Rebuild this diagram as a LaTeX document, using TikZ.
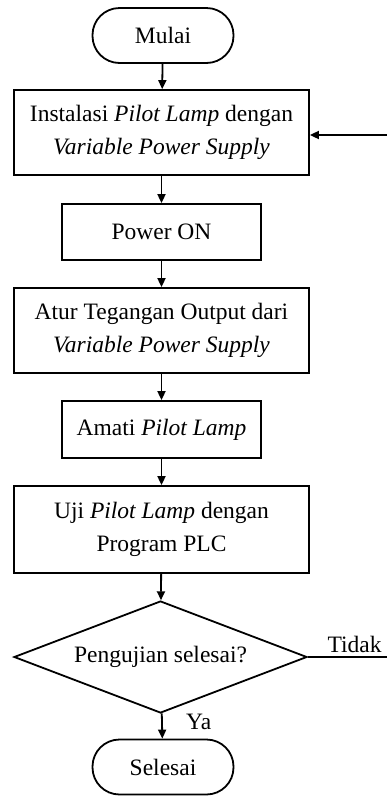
\documentclass[tikz,border=0pt]{standalone}
\usepackage{fontspec}
\setmainfont{Liberation Serif}
\usetikzlibrary{arrows.meta,shapes.geometric}
\begin{document}
\begin{tikzpicture}[x=1pt,y=-1pt,
  line width=1.8pt,
  font=\fontsize{23.5}{33}\selectfont,
  flow/.style={-{Triangle[length=9pt,width=8pt]}},
  procbox/.style={draw,rectangle,inner sep=0pt,align=center},
  termbox/.style={draw,rectangle,rounded corners=27pt,inner sep=0pt,minimum width=141pt,minimum height=55pt},
]
\useasboundingbox (0,0) rectangle (387,796);

% terminators
\node[termbox] (mulai) at (163,35.5) {Mulai};
\node[termbox] (selesai) at (163,767) {Selesai};

% process steps
\node[procbox,minimum width=295pt,minimum height=85pt] (inst) at (161.5,132.5)
  {Instalasi \textit{Pilot Lamp} dengan\\\textit{Variable Power Supply}};
\node[procbox,minimum width=199pt,minimum height=56pt] (pwr) at (161.5,232)
  {Power ON};
\node[procbox,minimum width=295pt,minimum height=85pt] (atur) at (161.5,330.5)
  {Atur Tegangan Output dari\\\textit{Variable Power Supply}};
\node[procbox,minimum width=199pt,minimum height=57pt] (amati) at (161.5,429.5)
  {Amati \textit{Pilot Lamp}};
\node[procbox,minimum width=295pt,minimum height=87pt] (uji) at (161.5,529.5)
  {Uji \textit{Pilot Lamp} dengan\\Program PLC};

% decision
\node[draw,diamond,aspect=2.62,inner sep=0pt,minimum width=293pt,minimum height=112pt] (cek) at (160.5,657)
  {Pengujian selesai?};

% free ends of the loop back at the right border
\coordinate (tout) at (387,657);
\coordinate (tin) at (387,135);

% connectors
\draw[flow] (mulai) -- (inst);
\draw[flow] (inst) -- (pwr);
\draw[flow] (pwr) -- (atur);
\draw[flow] (atur) -- (amati);
\draw[flow] (amati) -- (uji);
\draw[flow] (uji) -- (cek);
\draw[flow] (cek) -- node[right=20pt,pos=0.35] {Ya} (selesai);
\draw (cek.east) -- node[above=0pt,pos=0.59] {Tidak} (tout);
\draw[flow] (tin) -- (inst.east |- tin);
\end{tikzpicture}
\end{document}
